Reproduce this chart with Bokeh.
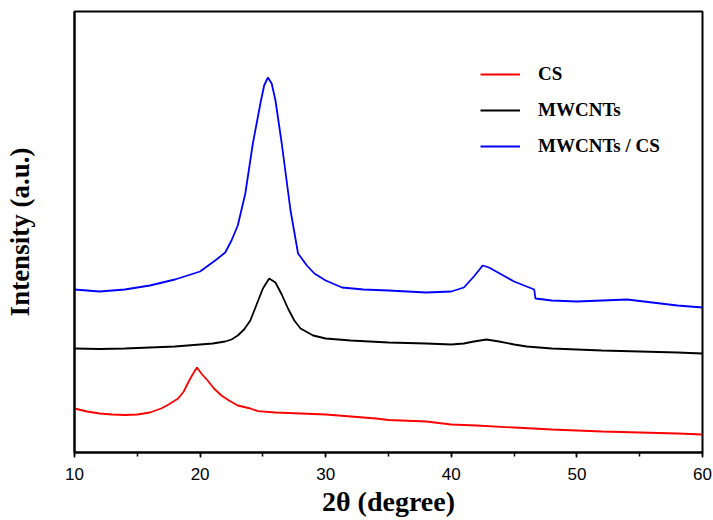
from bokeh.plotting import figure
from bokeh.models import Range1d, Legend, LegendItem, FixedTicker, SingleIntervalTicker
from bokeh.embed import file_html
from bokeh.resources import INLINE

# ---- data (2theta in degrees, intensity in arbitrary units) ----
cs_x = [10, 11, 12, 13, 14, 15, 16, 16.9, 17.5, 18.25, 18.7, 19.05, 19.4, 19.75, 20.1, 20.6,
        21.1, 21.7, 22.3, 23, 24, 24.6, 26, 28, 30, 32, 34, 35, 36, 38, 40, 42, 45, 48, 50,
        52, 55, 58, 60]
cs_y = [44, 41, 39, 38, 37.5, 38, 40, 44, 48, 54, 61, 70, 78, 85, 79, 72,
        64, 57, 52, 47, 44, 41.3, 40, 39, 38, 36, 34, 32.5, 32, 31, 28, 27, 25, 23, 22,
        21, 20, 19, 18]

mw_x = [10, 12, 14, 16, 18, 20, 21, 22, 22.5, 23, 23.5, 24, 24.5, 25, 25.5, 26, 26.5, 27,
        27.5, 28, 29, 30, 32, 35, 38, 40, 41, 41.8, 42.8, 43.8, 45, 46, 48, 50, 52, 55, 58, 60]
mw_y = [104, 103.5, 104, 105, 106, 108, 109, 111, 113, 117, 123, 132, 148, 164, 174, 170,
        158, 144, 132, 124, 117, 114, 112, 110, 109, 108, 109, 111, 113, 111, 108, 106, 104,
        103, 102, 101, 100, 99]

mc_x = [10, 12, 14, 16, 18, 18.5, 20, 21.2, 22, 22.5, 23, 23.6, 24.2, 24.8, 25.1, 25.4, 25.7,
        26, 26.5, 27.2, 27.8, 28.5, 29.1, 30, 31.3, 33, 35, 38, 40, 41, 41.8, 42.5, 43, 44,
        45, 46.6, 46.7, 48, 50, 52, 54, 56, 58, 60]
mc_y = [163, 161, 163, 167, 173, 175, 181, 192, 200, 212, 227, 259, 309, 349, 367, 375, 369,
        352, 309, 242, 199, 187, 179, 172, 165, 163, 162, 160, 161, 165, 176, 187, 185, 178,
        171, 163, 154, 152, 151, 152, 153, 150, 147, 145]

labels = ["CS", "MWCNTs", "MWCNTs / CS"]
colors = ["#ff0000", "#000000", "#0000ff"]

p = figure(width=712, height=520, output_backend="svg", toolbar_location=None,
           x_range=Range1d(10, 60), y_range=Range1d(0, 441),
           min_border_left=74, min_border_right=10, min_border_top=11, min_border_bottom=68)

r1 = p.line(cs_x, cs_y, line_color=colors[0], line_width=1.8)
r2 = p.line(mw_x, mw_y, line_color=colors[1], line_width=1.8)
r3 = p.line(mc_x, mc_y, line_color=colors[2], line_width=1.8)

p.xgrid.visible = False
p.ygrid.visible = False
p.outline_line_color = "black"
p.outline_line_width = 2
p.outline_line_alpha = 1.0

xa = p.xaxis[0]
xa.ticker = SingleIntervalTicker(interval=10, num_minor_ticks=2)
xa.axis_line_width = 2
xa.major_tick_line_width = 1.5
xa.minor_tick_line_width = 1.5
xa.major_tick_out = 5
xa.major_tick_in = 0
xa.minor_tick_out = 4
xa.minor_tick_in = 0
xa.major_label_text_font = "Liberation Sans"
xa.major_label_text_font_size = "17px"
xa.major_label_text_color = "black"
xa.major_label_standoff = 10
xa.axis_label = "2θ (degree)"
xa.axis_label_text_font = "Liberation Serif"
xa.axis_label_text_font_style = "bold"
xa.axis_label_text_font_size = "28px"
xa.axis_label_text_color = "black"
xa.axis_label_standoff = 3

ya = p.yaxis[0]
ya.ticker = FixedTicker(ticks=[])
ya.axis_line_width = 2
ya.major_tick_out = 0
ya.major_tick_in = 0
ya.minor_tick_out = 0
ya.minor_tick_in = 0
ya.major_label_text_font_size = "0px"
ya.axis_label = "Intensity (a.u.)"
ya.axis_label_text_font = "Liberation Serif"
ya.axis_label_text_font_style = "bold"
ya.axis_label_text_font_size = "27px"
ya.axis_label_text_color = "black"
ya.axis_label_standoff = 40

legend = Legend(items=[LegendItem(label=labels[0], renderers=[r1]),
                       LegendItem(label=labels[1], renderers=[r2]),
                       LegendItem(label=labels[2], renderers=[r3])],
                location=(406, 295))
legend.border_line_color = None
legend.background_fill_alpha = 0
legend.padding = 0
legend.margin = 0
legend.glyph_width = 40
legend.glyph_height = 22
legend.label_height = 22
legend.spacing = 14
legend.label_standoff = 18
legend.label_text_font = "Liberation Serif"
legend.label_text_font_style = "bold"
legend.label_text_font_size = "19px"
legend.label_text_color = "black"
p.add_layout(legend, "center")

open("out.html", "w").write(file_html(p, INLINE))
